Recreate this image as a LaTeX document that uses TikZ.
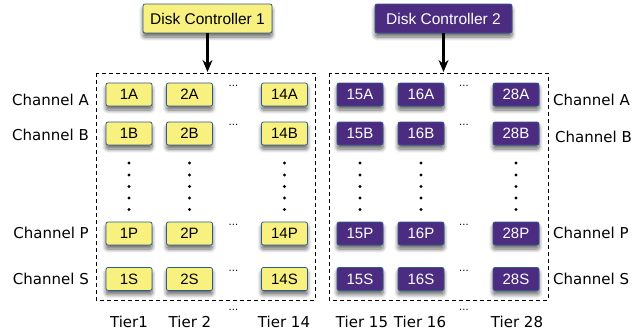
\documentclass[tikz,border=0pt]{standalone}
\usepackage{fontspec}
\setmainfont{Liberation Sans}
\newfontfamily\lblfont{DejaVu Sans}
\usetikzlibrary{shadows.blur,arrows.meta}
\definecolor{cellyellow}{HTML}{F9F17F}
\definecolor{cellpurple}{HTML}{4C2C80}
\definecolor{celledge}{HTML}{2F5C8A}
\tikzset{
  cellbase/.style={rounded corners=2pt, draw=celledge, line width=0.8pt,
    minimum width=46pt, minimum height=23pt, inner sep=0pt,
    font=\fontsize{15}{15}\selectfont,
    blur shadow={shadow xshift=0pt, shadow yshift=-4pt, shadow blur steps=8, shadow opacity=60, shadow blur radius=4pt}},
  ycell/.style={cellbase, fill=cellyellow, text=black},
  pcell/.style={cellbase, fill=cellpurple, text=white},
  ctrl/.style={minimum height=29pt, font=\fontsize{15.5}{15.5}\selectfont},
  lbl/.style={font=\lblfont\fontsize{15}{15}\selectfont, inner sep=0pt},
  ell/.style={font=\lblfont\fontsize{10}{10}\selectfont, inner sep=0pt, anchor=base},
  vdot/.style={fill=black, circle, inner sep=0pt, minimum size=3.2pt},
  group/.style={draw=black, dashed, dash pattern=on 4pt off 3pt, line width=0.8pt},
  feed/.style={-{Stealth[length=12pt,width=10pt]}, line width=2.2pt}
}
\begin{document}
\begin{tikzpicture}[x=1pt,y=-1pt]
\useasboundingbox (0,0) rectangle (641,335);
% controllers
\node[ycell, ctrl, minimum width=129pt] (c1) at (207.5,18.5) {Disk Controller 1};
\node[pcell, ctrl, minimum width=137pt] (c2) at (443.5,18.5) {Disk Controller 2};
% groups
\draw[group] (96,73) rectangle (315,300);
\draw[group] (329,73) rectangle (548,300);
\coordinate (g1) at (207.5,72);
\coordinate (g2) at (443.5,72);
\draw[feed] (c1.south) -- (g1);
\draw[feed] (c2.south) -- (g2);
% cells
\foreach \r/\y in {A/94.5,B/133.5,P/233.5,S/279}{
  \node[ycell] (l1\r) at (129,\y) {1\r};
  \node[ycell] (l2\r) at (189.5,\y) {2\r};
  \node[ycell] (l14\r) at (284.5,\y) {14\r};
  \node[pcell] (r15\r) at (360,\y) {15\r};
  \node[pcell] (r16\r) at (421,\y) {16\r};
  \node[pcell] (r28\r) at (516,\y) {28\r};
  \node[ell] (el\r) at (233.5,\y-8) {...};
  \node[ell] (er\r) at (464,\y-8) {...};
}
% vertical dots
\foreach \x in {129,189.5,284.5,360,421,516}{
  \foreach \y in {163,175,186.5,198,209.5}{
    \node[vdot] at (\x,\y) {};
  }
}
% bottom ellipses
\node[ell] (eb1) at (233.5,310) {...};
\node[ell] (eb2) at (464,310) {...};
% channel labels
\node[lbl, anchor=east] (la) at (89,100) {Channel A};
\node[lbl, anchor=east] (lb) at (89,135) {Channel B};
\node[lbl, anchor=east] (lp) at (89,233) {Channel P};
\node[lbl, anchor=east] (ls) at (89,279) {Channel S};
\node[lbl, anchor=west] (ra) at (553,100) {Channel A};
\node[lbl, anchor=west] (rb) at (555,137) {Channel B};
\node[lbl, anchor=west] (rp) at (553,233) {Channel P};
\node[lbl, anchor=west] (rs) at (553,279) {Channel S};
% tiers
\node[lbl] (t1) at (129,322) {Tier1};
\node[lbl] (t2) at (190,322) {Tier 2};
\node[lbl] (t14) at (284,322) {Tier 14};
\node[lbl] (t15) at (362,322) {Tier 15};
\node[lbl] (t16) at (420,322) {Tier 16};
\node[lbl] (t28) at (517,322) {Tier 28};
\end{tikzpicture}
\end{document}
